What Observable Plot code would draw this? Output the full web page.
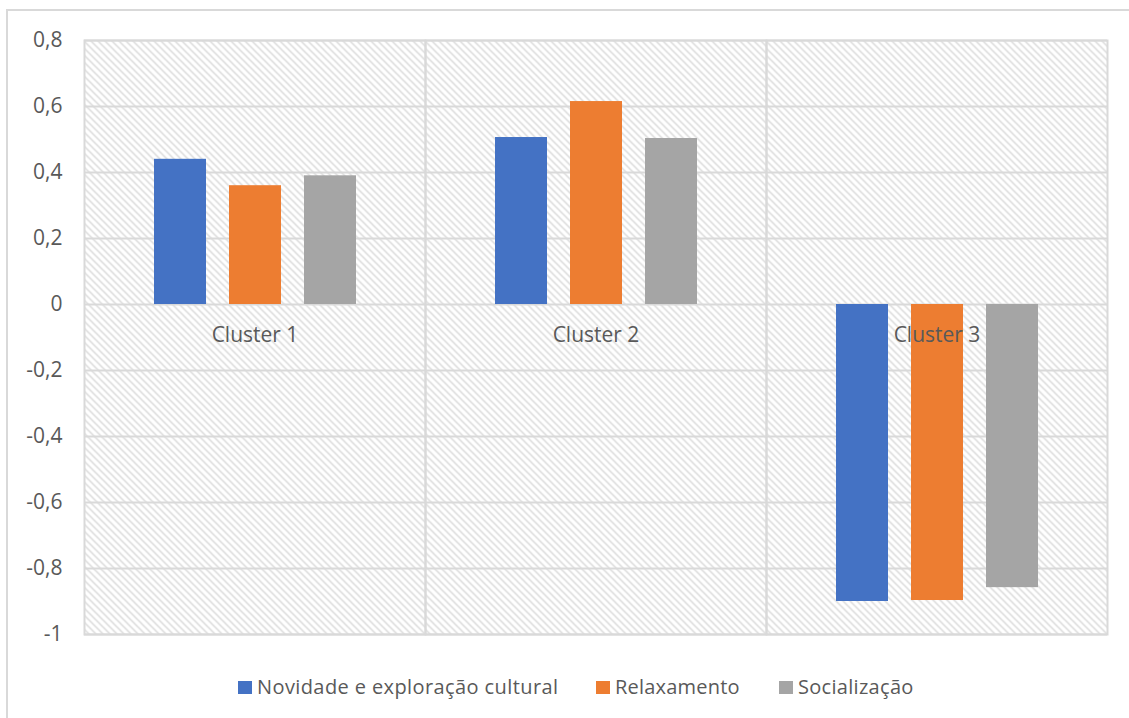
<!DOCTYPE html>
<html><head><meta charset="utf-8">
<script src="https://cdn.jsdelivr.net/npm/d3@7"></script>
<script src="https://cdn.jsdelivr.net/npm/@observablehq/plot@0.6"></script>
<style>
body{margin:0;background:#fff;font-family:"Open Sans",Lato,sans-serif;}
#wrap{position:relative;width:1129px;height:718px;overflow:hidden;background:#fff}
#border{position:absolute;left:6px;top:9px;width:1300px;height:900px;border-left:2px solid #d9d9d9;border-top:2px solid #d9d9d9}
#chart{position:absolute;left:0;top:0}
.item{position:absolute;top:687px;transform:translateY(-50%);display:flex;align-items:center;font-size:20px;line-height:24px;color:#595959;white-space:nowrap}
.sw{width:14px;height:13px;margin-right:5px;display:inline-block}
</style></head>
<body><div id="wrap"><div id="border"></div><div id="chart"></div><div id="legend"></div></div>
<script>
const clusters = ["Cluster 1", "Cluster 2", "Cluster 3"];
const series = ["Novidade e exploração cultural", "Relaxamento", "Socialização"];
const novidade = [0.44, 0.506, -0.9];
const relaxamento = [0.36, 0.615, -0.897];
const socializacao = [0.39, 0.503, -0.858];
const colors = ["#4472C4", "#ED7D31", "#A5A5A5"];
const yTicks = [-1, -0.8, -0.6, -0.4, -0.2, 0, 0.2, 0.4, 0.6, 0.8];

const values = [novidade, relaxamento, socializacao];
const data = [];
clusters.forEach((c, i) => series.forEach((s, j) => data.push({cluster: c, series: s, value: values[j][i]})));

const textColor = "#595959";
const grid = "#d9d9d9";

const chart = Plot.plot({
  width: 1129,
  height: 660,
  marginLeft: 83,
  marginRight: 21,
  marginTop: 40,
  marginBottom: 26,
  style: {fontFamily: "'Open Sans', Lato, sans-serif", background: "transparent"},
  fx: {domain: clusters, padding: 0, axis: null},
  x: {domain: series, paddingInner: 0.31, paddingOuter: 0.92, axis: null},
  y: {domain: [-1, 0.8], axis: null},
  color: {domain: series, range: colors},
  marks: [
    Plot.frame({fill: "url(#hatch)"}),
    Plot.ruleY(yTicks, {stroke: grid, strokeWidth: 2}),
    Plot.frame({stroke: grid, strokeWidth: 2}),
    Plot.barY(data, {fx: "cluster", x: "series", y: "value", fill: "series"}),
    Plot.text(clusters, {fx: d => d, y: () => 0, text: d => d, dy: 31, fontSize: 21, fill: textColor}),
    Plot.axisY({ticks: yTicks, tickFormat: d => String(d).replace(".", ","), tickSize: 0, tickPadding: 22, fontSize: 21, color: textColor, label: null})
  ]
});

d3.select(chart).insert("defs", ":first-child").html(
  '<pattern id="hatch" patternUnits="userSpaceOnUse" width="7" height="7">' +
  '<path d="M-1,-1 L8,8 M-1,6 L1,8 M6,-1 L8,1" stroke="#d6d6d6" stroke-width="1.3" fill="none"/></pattern>'
);
document.getElementById("chart").appendChild(chart);

const lefts = [238, 596, 779];
const spacing = ["0.4px", "0.2px", "0.3px"];
const legend = document.getElementById("legend");
series.forEach((s, i) => {
  const it = document.createElement("div");
  it.className = "item";
  it.style.left = lefts[i] + "px";
  it.innerHTML = `<span class="sw" style="background:${colors[i]}"></span><span style="letter-spacing:${spacing[i]}">${s}</span>`;
  legend.appendChild(it);
});
</script></body></html>
